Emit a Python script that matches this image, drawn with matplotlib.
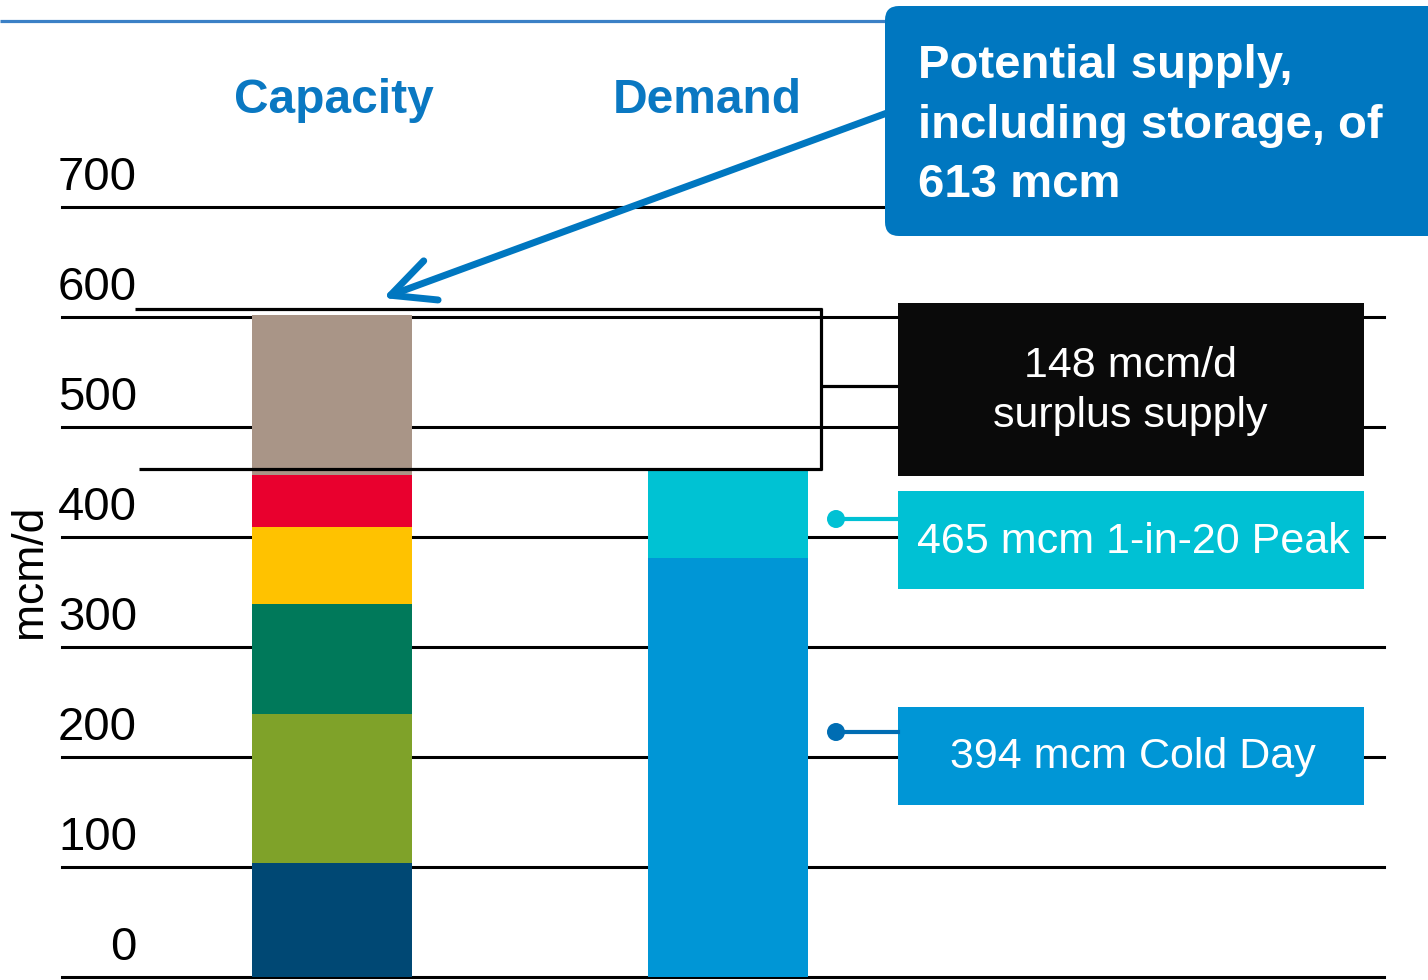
import matplotlib
matplotlib.use("Agg")
import matplotlib.pyplot as plt
from matplotlib.patches import FancyBboxPatch, Rectangle, Circle
from matplotlib import transforms

plt.rcParams['font.family'] = ['Liberation Sans', 'DejaVu Sans']

# ---- data ----
categories = ["Capacity", "Demand"]
capacity_segments = [104, 135, 100, 70, 47, 146]
capacity_colors = ["#004874", "#7fa229", "#00795a", "#ffc200", "#e9002e", "#a99587"]
demand_segments = [381, 79]
demand_colors = ["#0096d6", "#00c2d3"]
ytick_values = [0, 100, 200, 300, 400, 500, 600, 700]
ytick_labels = ["0", "100", "200", "300", "400", "500", "600", "700"]
ylabel = "mcm/d"
callout_lines = ["Potential supply,", "including storage, of", "613 mcm"]
surplus_lines = ["148 mcm/d", "surplus supply"]
peak_label = "465 mcm 1-in-20 Peak"
cold_label = "394 mcm Cold Day"

W, H = 1428, 980
fig = plt.figure(figsize=(W / 100, H / 100), dpi=100)
fig.patch.set_facecolor("white")

# main data axes (covers figure)
ax = fig.add_axes([0, 0, 1, 1])
ax.axis("off")
pxu = 1.1  # pixels per unit
ax.set_ylim(-3 / pxu, 977 / pxu)
c0, c1 = 332.5, 728.0
sc = c1 - c0
ax.set_xlim(-c0 / sc, (W - c0) / sc)
bw = 160 / sc

# gridlines
for v in ytick_values:
    ax.axhline(v, xmin=62 / W, xmax=1384 / W, color="black", lw=2.2, zorder=1)

# tick labels above gridlines
blend = transforms.blended_transform_factory(ax.transAxes, ax.transData)
off = transforms.ScaledTranslation(0, 17 / 100, fig.dpi_scale_trans)
for v, lab in zip(ytick_values, ytick_labels):
    ax.text(137 / W, v, lab, transform=blend + off, ha="right", va="baseline",
            fontsize=34, color="black", zorder=5)

# stacked bars
bottom = 0
for h, c in zip(capacity_segments, capacity_colors):
    ax.bar(0, h, bottom=bottom, width=bw, color=c, zorder=2, linewidth=0)
    bottom += h
bottom = 0
for h, c in zip(demand_segments, demand_colors):
    ax.bar(1, h, bottom=bottom, width=bw, color=c, zorder=2, linewidth=0)
    bottom += h

# ---- decorations in pixel coordinates ----
d = fig.add_axes([0, 0, 1, 1])
d.set_xlim(0, W)
d.set_ylim(H, 0)
d.axis("off")
d.patch.set_alpha(0)

# top blue rule
d.plot([0, 886], [21, 21], color="#3b80c6", lw=2.3, solid_capstyle="butt")

# category headers
for lab, x in zip(categories, [334, 707]):
    d.text(x, 113, lab, ha="center", va="baseline", fontsize=34.5,
           fontweight="bold", color="#0a78c2")

# y label
d.text(30, 571, ylabel, rotation=90, ha="center", va="center", fontsize=32,
       color="black")

# outline around surplus region
lk = dict(color="black", lw=2.3, solid_capstyle="butt", zorder=6)
d.plot([135, 822], [309, 309], **lk)
d.plot([139, 822], [469, 469], **lk)
d.plot([821, 821], [308, 470], **lk)
d.plot([822, 898], [386, 386], **lk)

# black surplus box
d.add_patch(Rectangle((898, 303), 466, 173, facecolor="#0a0a0a", edgecolor="none", zorder=7))
d.text(1130, 377, surplus_lines[0], ha="center", va="baseline", fontsize=31, color="white", zorder=8)
d.text(1130, 427, surplus_lines[1], ha="center", va="baseline", fontsize=31, color="white", zorder=8)

# peak box
d.add_patch(Rectangle((898, 491), 466, 98, facecolor="#00c1d4", edgecolor="none", zorder=7))
d.text(1133, 553, peak_label, ha="center", va="baseline", fontsize=31, color="white", zorder=8)
d.plot([836, 898], [519, 519], color="#00c1d4", lw=3, zorder=7)
d.add_patch(Circle((836, 519), 9, facecolor="#00c1d4", edgecolor="none", zorder=8))

# cold day box
d.add_patch(Rectangle((898, 707), 466, 98, facecolor="#0096d6", edgecolor="none", zorder=7))
d.text(1133, 768, cold_label, ha="center", va="baseline", fontsize=31, color="white", zorder=8)
d.plot([836, 898], [732, 732], color="#006db3", lw=3, zorder=7)
d.add_patch(Circle((836, 732), 9, facecolor="#006db3", edgecolor="none", zorder=8))

# callout box
d.add_patch(FancyBboxPatch((897, 18), 560, 206, boxstyle="round,pad=12,rounding_size=14",
                           facecolor="#0077c0", edgecolor="none", zorder=9))
for i, line in enumerate(callout_lines):
    d.text(918, 78 + i * 59.5, line, ha="left", va="baseline", fontsize=34,
           fontweight="bold", color="white", zorder=10)

# arrow
d.annotate("", xy=(383, 298), xytext=(887, 113),
           arrowprops=dict(arrowstyle="->,head_length=1.55,head_width=0.75",
                           lw=5, color="#0077c0", shrinkA=0, shrinkB=0,
                           mutation_scale=20), zorder=8)

fig.savefig("out.png", dpi=100, facecolor="white")
